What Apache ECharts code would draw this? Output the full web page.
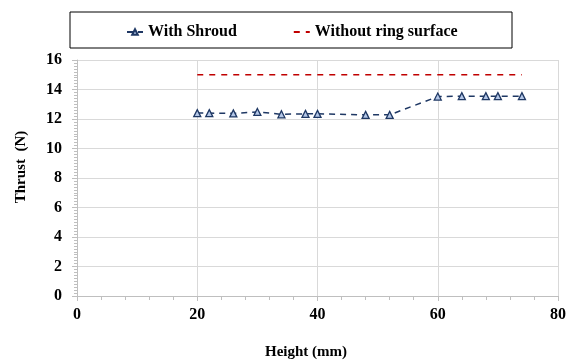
<!DOCTYPE html>
<html><head><meta charset="utf-8">
<script src="https://cdn.jsdelivr.net/npm/echarts@6/dist/echarts.min.js"></script>
<style>html,body{margin:0;padding:0;background:#fff}#c{width:572px;height:363px}</style>
</head><body><div id="c"></div>
<script>
const heights = [20, 22, 26, 30, 34, 38, 40, 48, 52, 60, 64, 68, 70, 74];
const withShroud = [12.4, 12.4, 12.38, 12.48, 12.32, 12.35, 12.35, 12.28, 12.28, 13.52, 13.55, 13.55, 13.55, 13.55];
const withoutRingX = [20, 74];
const withoutRing = [15, 15];
const seriesNames = ['With Shroud', 'Without ring surface'];
const xTitle = 'Height (mm)';
const yTitle = 'Thrust  (N)';

const font = 'Liberation Serif';
const titleStyle = {fontFamily: font, fontWeight: 'bold', fontSize: 15, fill: '#000', align: 'center', verticalAlign: 'middle'};
const chart = echarts.init(document.getElementById('c'), null, {renderer: 'canvas'});
chart.setOption({
  animation: false,
  graphic: [
    {type: 'rect', shape: {x: 70, y: 12, width: 442, height: 36}, style: {fill: 'none', stroke: '#000', lineWidth: 1}},
    {type: 'text', x: 306, y: 352, style: Object.assign({text: xTitle}, titleStyle)},
    {type: 'text', x: 21, y: 167, rotation: Math.PI / 2, style: Object.assign({text: yTitle}, titleStyle)}
  ],
  legend: {
    top: 19, left: 121, itemGap: 56, itemWidth: 16, itemHeight: 7,
    textStyle: {fontFamily: font, fontWeight: 'bold', fontSize: 16, color: '#000'},
    data: [
      {name: seriesNames[0]},
      {name: seriesNames[1], itemStyle: {opacity: 0}}
    ]
  },
  grid: {left: 77, right: 14, top: 60, bottom: 67, containLabel: false},
  xAxis: {
    type: 'value', min: 0, max: 80, interval: 20,
    axisLine: {lineStyle: {color: '#bfbfbf'}},
    axisTick: {show: true, length: 5, lineStyle: {color: '#bfbfbf'}},
    minorTick: {show: true, splitNumber: 5, length: 4, lineStyle: {color: '#bfbfbf'}},
    axisLabel: {fontFamily: font, fontWeight: 'bold', fontSize: 16, color: '#000', margin: 11},
    splitLine: {show: true, lineStyle: {color: '#d9d9d9'}}
  },
  yAxis: {
    type: 'value', min: 0, max: 16, interval: 2,
    axisLine: {show: true, lineStyle: {color: '#bfbfbf'}},
    axisTick: {show: true, length: 5, lineStyle: {color: '#bfbfbf'}},
    minorTick: {show: true, splitNumber: 10, length: 3, lineStyle: {color: '#bfbfbf'}},
    axisLabel: {fontFamily: font, fontWeight: 'bold', fontSize: 16, color: '#000', margin: 15},
    splitLine: {show: true, lineStyle: {color: '#d9d9d9'}}
  },
  series: [
    {
      name: seriesNames[0], type: 'line',
      data: heights.map((h, i) => [h, withShroud[i]]),
      symbol: 'triangle', symbolSize: 7,
      itemStyle: {color: '#b4c7e7', borderColor: '#1f3864', borderWidth: 1.3},
      lineStyle: {color: '#1f3864', width: 1.5, type: [6, 5]},
      z: 3
    },
    {
      name: seriesNames[1], type: 'line',
      data: withoutRingX.map((h, i) => [h, withoutRing[i]]),
      showSymbol: false, symbol: 'none',
      itemStyle: {color: '#c00000'},
      lineStyle: {color: '#c00000', width: 1.5, type: [6, 6]},
      z: 2
    }
  ]
});
</script></body></html>
